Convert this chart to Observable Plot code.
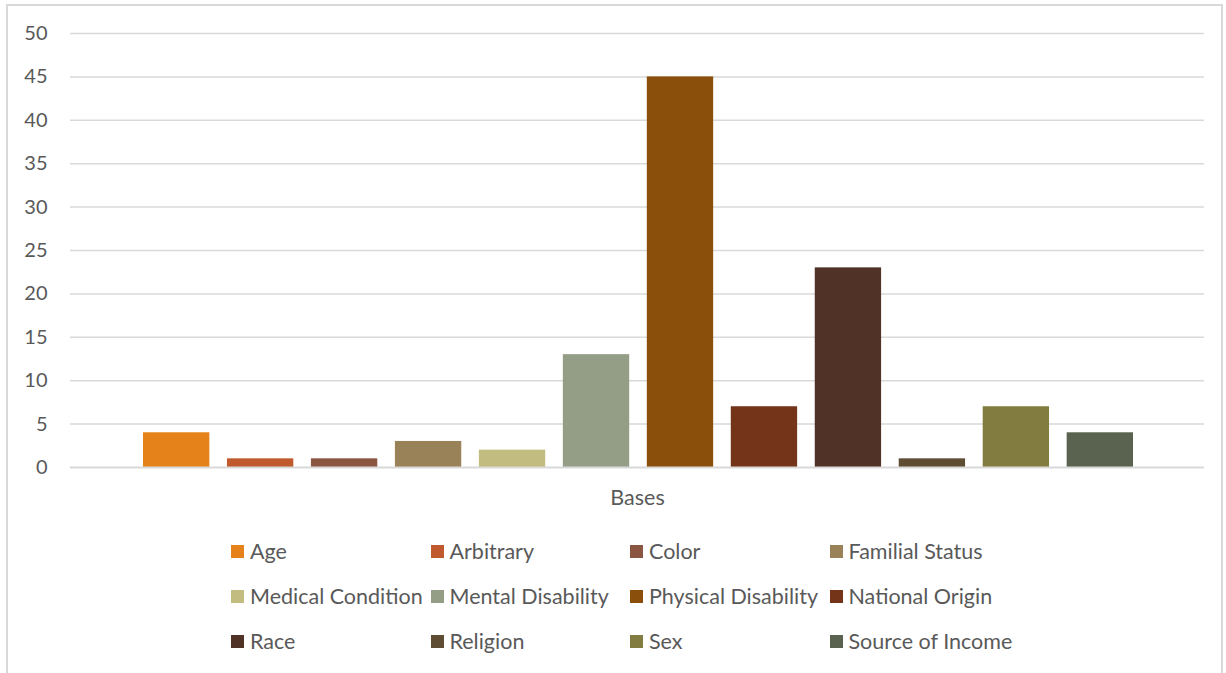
<!DOCTYPE html>
<html>
<head>
<meta charset="utf-8">
<script src="https://cdn.jsdelivr.net/npm/d3@7"></script>
<script src="https://cdn.jsdelivr.net/npm/@observablehq/plot@0.6"></script>
<style>
  html, body { margin: 0; padding: 0; background: #fff; }
  body { width: 1226px; height: 673px; position: relative; overflow: hidden;
         font-family: Lato, "Open Sans", sans-serif; color: #595959; }
  #frame { position: absolute; left: 6px; top: 4px; width: 1217px; height: 680px;
           border: 2px solid #d9d9d9; box-sizing: border-box; }
  #chart { position: absolute; left: 0; top: 0; }
  #legend { position: absolute; left: 231px; top: 538px;
            display: grid; grid-template-columns: repeat(4, 199.5px); grid-auto-rows: 45px; }
  .item { display: flex; align-items: center; font-size: 21.5px; white-space: nowrap; height: 26px; }
  .sw { width: 13px; height: 13px; margin-right: 6px; flex: none; }
</style>
</head>
<body>
<div id="frame"></div>
<div id="chart"></div>
<div id="legend"></div>
<script>
// Complaint bases and their counts
const bases = ["Age", "Arbitrary", "Color", "Familial Status", "Medical Condition", "Mental Disability",
               "Physical Disability", "National Origin", "Race", "Religion", "Sex", "Source of Income"];
const counts = [4, 1, 1, 3, 2, 13, 45, 7, 23, 1, 7, 4];
const colors = ["#e6821a", "#c05a2e", "#8a5642", "#9a8258", "#c2bc80", "#949e86",
                "#8b4f0c", "#73341a", "#503226", "#5e4d33", "#837c40", "#5a6350"];
const yTicks = [0, 5, 10, 15, 20, 25, 30, 35, 40, 45, 50];
const axisTitle = "Bases";

const data = bases.map((b, i) => ({base: b, count: counts[i]}));

const chart = Plot.plot({
  width: 1226,
  height: 515,
  marginTop: 33,
  marginBottom: 48,
  marginLeft: 70,
  marginRight: 22,
  style: {fontFamily: "Lato, 'Open Sans', sans-serif", fontSize: "20px", color: "#595959", background: "transparent"},
  x: {domain: bases, range: [143, 1133], paddingInner: 0.21, paddingOuter: 0, round: false, axis: null},
  y: {domain: [0, 50], ticks: yTicks, label: null, tickSize: 0, tickPadding: 23},
  color: {domain: bases, range: colors},
  marks: [
    Plot.ruleY(yTicks.slice(1), {stroke: "#d9d9d9", strokeWidth: 1.5}),
    Plot.barY(data, {x: "base", y: "count", fill: "base"}),
    Plot.ruleY([0], {stroke: "#d9d9d9", strokeWidth: 2}),
    Plot.axisY({ticks: yTicks, tickSize: 0, tickPadding: 23, label: null, fontSize: 20}),
    Plot.text([axisTitle], {frameAnchor: "bottom", dy: 37, fontSize: 21.5, fill: "#595959"})
  ]
});
document.getElementById("chart").append(chart);

// Legend in four columns, using the chart's colour scale
const color = chart.scale("color");
const legend = document.getElementById("legend");
bases.forEach((b, i) => {
  const item = document.createElement("div");
  item.className = "item";
  const sw = document.createElement("span");
  sw.className = "sw";
  sw.style.background = color.range[i];
  const label = document.createElement("span");
  label.textContent = b;
  item.append(sw, label);
  legend.append(item);
});
</script>
</body>
</html>
